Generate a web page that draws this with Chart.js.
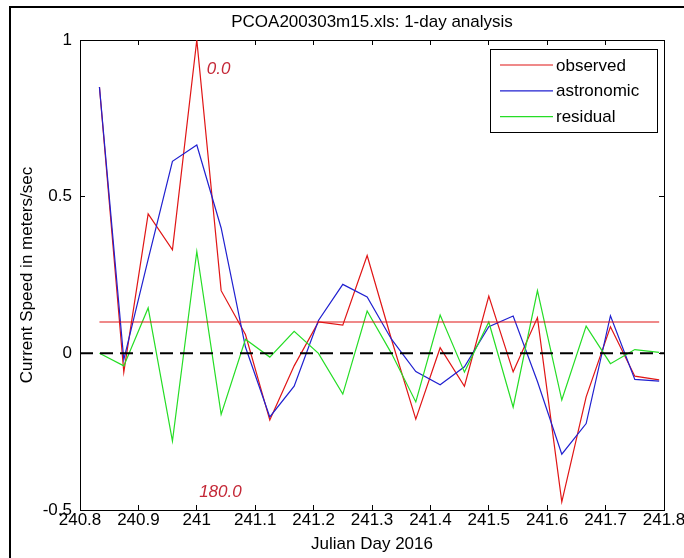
<!DOCTYPE html>
<html>
<head>
<meta charset="utf-8">
<script src="https://cdn.jsdelivr.net/npm/chart.js@4"></script>
<style>
html,body{margin:0;padding:0;background:#fff;}
#wrap{position:relative;width:684px;height:558px;overflow:hidden;background:#fff;}
#frame{position:absolute;left:9px;top:6px;width:700px;height:600px;border-left:2px solid #000;border-top:2px solid #000;pointer-events:none;}
canvas{position:absolute;left:0;top:0;}
</style>
</head>
<body>
<div id="wrap"><canvas id="c" width="684" height="558"></canvas><div id="frame"></div></div>
<script>
// ---- data ----
const julianDays = [240.8333, 240.875, 240.9167, 240.9583, 241.0, 241.0417, 241.0833, 241.125,
  241.1667, 241.2083, 241.25, 241.2917, 241.3333, 241.375, 241.4167, 241.4583,
  241.5, 241.5417, 241.5833, 241.625, 241.6667, 241.7083, 241.75, 241.7917];
const observed = [0.85, -0.06, 0.445, 0.33, 1.0, 0.20, 0.06, -0.213, -0.04, 0.10, 0.09, 0.312,
  0.045, -0.21, 0.018, -0.105, 0.183, -0.059, 0.114, -0.474, -0.139, 0.085, -0.073, -0.085];
const astronomic = [0.85, -0.02, 0.30, 0.613, 0.665, 0.40, 0.02, -0.203, -0.105, 0.105, 0.22, 0.18,
  0.045, -0.058, -0.10, -0.043, 0.085, 0.119, -0.09, -0.322, -0.224, 0.12, -0.083, -0.089];
const residual = [0.0, -0.04, 0.145, -0.28, 0.325, -0.195, 0.045, -0.012, 0.07, 0.0, -0.13, 0.135,
  0.0, -0.155, 0.122, -0.06, 0.10, -0.172, 0.20, -0.149, 0.087, -0.033, 0.012, 0.003];
const seriesNames = ['observed', 'astronomic', 'residual'];
const thresholdLevel = 0.1;
const zeroLevel = 0;
const xMin = 240.8, xMax = 241.8;
const yMin = -0.5, yMax = 1;
const xTickValues = [240.8, 240.9, 241.0, 241.1, 241.2, 241.3, 241.4, 241.5, 241.6, 241.7, 241.8];
const xTickLabels = ['240.8', '240.9', '241', '241.1', '241.2', '241.3', '241.4', '241.5', '241.6', '241.7', '241.8'];
const yTickValues = [-0.5, 0, 0.5, 1];
const yTickLabels = ['-0.5', '0', '0.5', '1'];
const annotationTexts = ['0.0', '180.0'];
const annotationX = [241.017, 241.004];
const annotationY = [0.89, -0.46];
const titleText = 'PCOA200303m15.xls: 1-day analysis';
const xTitle = 'Julian Day 2016';
const yTitle = 'Current Speed in meters/sec';

// ---- styles ----
const RED = '#e01515', BLUE = '#2020d0', GREEN = '#25dd25', ANNOT = '#c42837';
const FONT = '"Liberation Sans", Arial, sans-serif';

const toXY = arr => arr.map((v, i) => ({x: julianDays[i], y: v}));

Chart.defaults.font.family = FONT;
Chart.defaults.font.size = 17;
Chart.defaults.color = '#000';

function mirrorTicks(values){ return scale => { scale.ticks = values.map(v => ({value: v})); }; }

const frameDecor = {
  id: 'frameDecor',
  afterDraw(chart){
    const ctx = chart.ctx, ca = chart.chartArea;
    const sx = chart.scales.x, sy = chart.scales.y;
    ctx.save();
    // title
    ctx.font = '17px ' + FONT;
    ctx.fillStyle = '#000';
    ctx.textAlign = 'center';
    ctx.textBaseline = 'alphabetic';
    ctx.fillText(titleText, (ca.left + ca.right) / 2, 27);
    // annotations
    ctx.font = 'italic 17px ' + FONT;
    ctx.fillStyle = ANNOT;
    ctx.textAlign = 'left';
    annotationTexts.forEach((t, i) => {
      ctx.fillText(t, sx.getPixelForValue(annotationX[i]), sy.getPixelForValue(annotationY[i]));
    });
    // legend box
    const items = chart.data.datasets.filter(d => d.inLegend);
    const bw = 167, bh = 83;
    const bx = ca.right - 7 - bw, by = ca.top + 9;
    ctx.fillStyle = '#fff';
    ctx.fillRect(bx, by, bw, bh);
    ctx.strokeStyle = '#000';
    ctx.lineWidth = 1;
    ctx.strokeRect(Math.round(bx) + 0.5, Math.round(by) + 0.5, bw, bh);
    ctx.font = '17px ' + FONT;
    ctx.textBaseline = 'middle';
    items.forEach((d, i) => {
      const yy = by + 16 + i * 25.8;
      ctx.strokeStyle = d.borderColor;
      ctx.lineWidth = 1.2;
      ctx.beginPath();
      ctx.moveTo(bx + 10, yy);
      ctx.lineTo(bx + 63, yy);
      ctx.stroke();
      ctx.fillStyle = '#000';
      ctx.fillText(d.label, bx + 66, yy + 1);
    });
    ctx.restore();
  }
};

new Chart(document.getElementById('c'), {
  type: 'line',
  data: {
    datasets: [
      {label: seriesNames[0], data: toXY(observed), borderColor: RED, borderWidth: 1.2, order: 5, inLegend: true},
      {label: seriesNames[1], data: toXY(astronomic), borderColor: BLUE, borderWidth: 1.2, order: 4, inLegend: true},
      {label: seriesNames[2], data: toXY(residual), borderColor: GREEN, borderWidth: 1.2, order: 3, inLegend: true},
      {label: 'threshold', data: [{x: julianDays[0], y: thresholdLevel}, {x: julianDays[julianDays.length - 1], y: thresholdLevel}],
        borderColor: RED, borderWidth: 1.2, order: 2},
      {label: 'zero', data: [{x: xMin, y: zeroLevel}, {x: xMax, y: zeroLevel}],
        borderColor: '#000', borderWidth: 2, borderDash: [13, 7], order: 1}
    ]
  },
  options: {
    responsive: false,
    devicePixelRatio: 1,
    animation: false,
    layout: {padding: {top: 40, left: 0, right: 0, bottom: 0}},
    elements: {point: {radius: 0, hoverRadius: 0}, line: {tension: 0, fill: false}},
    plugins: {legend: {display: false}, tooltip: {enabled: false}, title: {display: false}},
    scales: {
      x: {
        type: 'linear', position: 'bottom', min: xMin, max: xMax,
        afterBuildTicks: mirrorTicks(xTickValues),
        afterFit: s => { s.height = 48; s.paddingLeft = 0; s.paddingRight = 0; },
        grid: {drawOnChartArea: false, drawTicks: true, tickLength: -5, color: '#000', lineWidth: 1},
        border: {display: true, color: '#000', width: 1},
        ticks: {autoSkip: false, maxRotation: 0, padding: 5, color: '#000',
          callback: (v, i) => xTickLabels[i]},
        title: {display: true, text: xTitle, color: '#000', font: {size: 17}, padding: {top: 0, bottom: 3}}
      },
      x2: {
        type: 'linear', position: 'top', min: xMin, max: xMax,
        afterBuildTicks: mirrorTicks(xTickValues),
        afterFit: s => { s.height = 0; s.paddingLeft = 0; s.paddingRight = 0; },
        grid: {drawOnChartArea: false, drawTicks: true, tickLength: -5, color: '#000', lineWidth: 1},
        border: {display: true, color: '#000', width: 1},
        ticks: {display: false}
      },
      y: {
        type: 'linear', position: 'left', min: yMin, max: yMax,
        afterBuildTicks: mirrorTicks(yTickValues),
        afterFit: s => { s.width = 80; s.paddingTop = 0; s.paddingBottom = 0; },
        grid: {drawOnChartArea: false, drawTicks: true, tickLength: -5, color: '#000', lineWidth: 1},
        border: {display: true, color: '#000', width: 1},
        ticks: {autoSkip: false, padding: 13, color: '#000',
          callback: (v, i) => yTickLabels[i]},
        title: {display: true, text: yTitle, color: '#000', font: {size: 17}, padding: {top: 17, bottom: 0}}
      },
      y2: {
        type: 'linear', position: 'right', min: yMin, max: yMax,
        afterBuildTicks: mirrorTicks(yTickValues),
        afterFit: s => { s.width = 20; s.paddingTop = 0; s.paddingBottom = 0; },
        grid: {drawOnChartArea: false, drawTicks: true, tickLength: -5, color: '#000', lineWidth: 1},
        border: {display: true, color: '#000', width: 1},
        ticks: {display: false}
      }
    }
  },
  plugins: [frameDecor]
});
</script>
</body>
</html>
